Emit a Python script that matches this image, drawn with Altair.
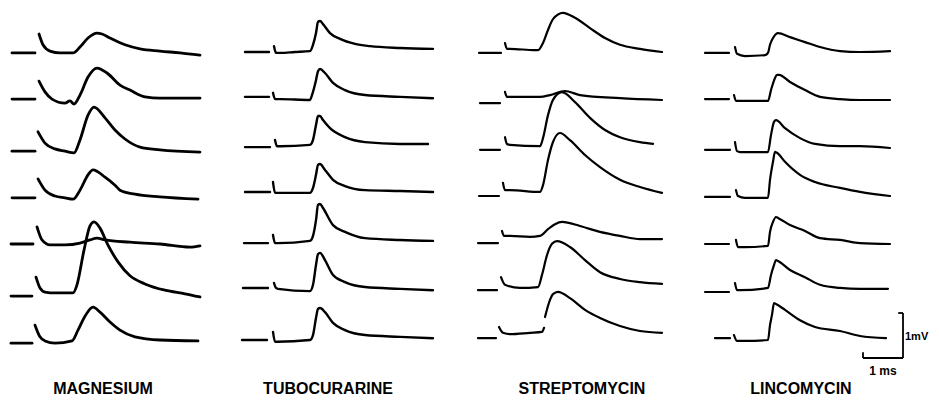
import altair as alt
import pandas as pd

# ---------------- data (time in ms from sweep start, voltage in mV from row baseline) -------------
PANELS = ["MAGNESIUM", "TUBOCURARINE", "STREPTOMYCIN", "LINCOMYCIN"]

# pre-stimulus baseline dash of each sweep: (start ms, end ms, level mV)
MG_PRE = [(0, 0.575, -0.02), (0, 0.575, 0.02), (0, 0.575, -0.07), (0, 0.575, -0.04),
          (-0.025, 0.525, 0.0), (-0.025, 0.5, -0.09), (-0.025, 0.5, -0.07)]
TC_PRE = [(0, 0.6, 0.0), (0, 0.6, 0.07), (0, 0.625, 0.02), (0, 0.625, 0.09),
          (-0.025, 0.575, 0.02), (-0.05, 0.575, 0.09), (-0.075, 0.55, 0.0)]
SM_PRE = [(0, 0.55, -0.02), (0.025, 0.525, -0.07), (0.025, 0.525, -0.04), (0, 0.5, 0.0),
          (-0.025, 0.475, 0.02), (-0.025, 0.45, 0.04), (-0.025, 0.425, 0.04)]
LC_PRE = [(0, 0.6, -0.02), (0, 0.6, 0.02), (0, 0.625, -0.04), (0, 0.625, -0.02),
          (0, 0.6, 0.0), (0, 0.6, 0.0), (0.25, 0.625, 0.04)]

# MAGNESIUM sweeps
MG_T = [
    [0.675, 0.775, 0.95, 1.2, 1.525, 1.7, 1.9, 2.125, 2.25, 2.45, 2.825, 3.2, 3.7, 4.2, 4.7],
    [0.675, 0.825, 1.0, 1.325, 1.45, 1.55, 1.7, 1.9, 2.125, 2.375, 2.7, 2.95, 3.325, 3.7, 4.7],
    [0.65, 0.825, 1.075, 1.325, 1.55, 1.7, 1.9, 2.05, 2.325, 2.575, 2.825, 3.2, 3.7, 4.7],
    [0.65, 0.825, 1.075, 1.325, 1.525, 1.7, 1.9, 2.025, 2.325, 2.575, 2.7, 3.075, 3.7, 4.65],
    [0.625, 0.75, 0.95, 1.325, 1.7, 1.95, 2.125, 2.325, 2.95, 3.7, 4.45, 4.7],
    [0.6, 0.7, 0.825, 1.075, 1.525, 1.625, 1.8, 1.95, 2.05, 2.2, 2.4, 2.65, 2.95, 3.325, 3.825, 4.325, 4.7],
    [0.575, 0.7, 0.825, 1.075, 1.5, 1.65, 1.825, 2.025, 2.2, 2.45, 2.7, 3.075, 3.7, 4.65],
]
MG_V = [
    [0.40, 0.16, 0.02, -0.02, -0.02, 0.11, 0.31, 0.42, 0.40, 0.31, 0.16, 0.07, 0.02, -0.02, -0.07],
    [0.42, 0.18, 0.02, -0.07, -0.02, -0.09, 0.11, 0.51, 0.71, 0.60, 0.33, 0.22, 0.07, 0.04, 0.04],
    [0.36, 0.11, -0.02, -0.07, -0.11, 0.18, 0.73, 0.91, 0.67, 0.40, 0.20, 0.02, -0.04, -0.09],
    [0.38, 0.13, 0.0, -0.04, -0.07, 0.13, 0.47, 0.58, 0.42, 0.24, 0.13, 0.04, -0.02, -0.07],
    [0.38, 0.09, -0.02, -0.02, 0.02, 0.09, 0.13, 0.09, 0.04, 0.0, -0.07, -0.04],
    [0.33, 0.09, 0.0, -0.02, -0.02, 0.16, 0.93, 1.47, 1.56, 1.42, 1.04, 0.67, 0.36, 0.18, 0.04, -0.04, -0.11],
    [0.33, 0.07, -0.02, -0.07, -0.02, 0.22, 0.53, 0.73, 0.62, 0.40, 0.22, 0.07, 0.0, -0.02],
]

# TUBOCURARINE sweeps
TC_T = [
    [0.725, 0.775, 0.875, 1.25, 1.625, 1.7, 1.775, 1.825, 1.875, 1.95, 2.125, 2.375, 2.75, 3.125, 3.875, 4.7],
    [0.7, 0.75, 0.875, 1.625, 1.675, 1.775, 1.825, 1.875, 2.0, 2.2, 2.5, 3.0, 3.875, 4.7],
    [0.75, 0.8, 0.875, 1.625, 1.7, 1.775, 1.825, 1.875, 1.95, 2.125, 2.5, 3.0, 3.875, 4.575],
    [0.7, 0.75, 0.825, 1.625, 1.7, 1.775, 1.825, 1.875, 2.0, 2.2, 2.5, 3.0, 3.875, 4.7],
    [0.7, 0.75, 0.825, 1.625, 1.7, 1.775, 1.825, 1.875, 1.95, 2.2, 2.5, 3.0, 3.875, 4.7],
    [0.725, 0.775, 0.825, 1.625, 1.7, 1.775, 1.825, 1.875, 2.0, 2.2, 2.5, 3.0, 3.875, 4.7],
    [0.7, 0.75, 0.8, 1.625, 1.7, 1.775, 1.825, 1.875, 2.0, 2.2, 2.5, 3.0, 3.875, 4.7],
]
TC_V = [
    [0.13, -0.02, -0.02, 0.0, 0.02, 0.16, 0.42, 0.67, 0.69, 0.62, 0.42, 0.29, 0.18, 0.13, 0.09, 0.07],
    [0.16, 0.02, 0.02, 0.0, 0.11, 0.44, 0.64, 0.69, 0.60, 0.38, 0.22, 0.11, 0.07, 0.04],
    [0.18, 0.04, 0.04, 0.07, 0.18, 0.51, 0.71, 0.71, 0.62, 0.44, 0.24, 0.13, 0.09, 0.09],
    [0.31, 0.07, 0.07, 0.07, 0.18, 0.47, 0.69, 0.71, 0.58, 0.36, 0.22, 0.13, 0.11, 0.09],
    [0.20, 0.02, 0.02, 0.07, 0.18, 0.53, 0.87, 0.89, 0.80, 0.42, 0.27, 0.13, 0.09, 0.07],
    [0.20, 0.09, 0.07, 0.02, 0.16, 0.60, 0.84, 0.87, 0.71, 0.38, 0.22, 0.11, 0.07, 0.04],
    [0.18, -0.04, -0.04, 0.0, 0.11, 0.49, 0.69, 0.71, 0.62, 0.38, 0.22, 0.11, 0.07, 0.04],
]

# STREPTOMYCIN sweeps (None = gap in the trace)
SM_T = [
    [0.65, 0.7, 0.775, 1.4, 1.475, 1.6, 1.725, 1.85, 2.1, 2.4, 2.775, 3.15, 3.525, 4.025, 4.575],
    [0.65, 0.7, 0.775, 1.525, 1.775, 2.15, 2.525, 3.525, 4.575],
    [0.65, 0.7, 0.775, 1.525, 1.6, 1.725, 1.85, 2.075, 2.4, 2.775, 3.15, 3.525, 4.025, 4.35],
    [0.6, 0.65, 0.775, 1.525, 1.6, 1.725, 1.85, 2.025, 2.275, 2.65, 3.025, 3.525, 4.025, 4.575],
    [0.575, 0.625, 0.775, 1.275, 1.525, 1.725, 1.9, 2.075, 2.525, 3.025, 3.525, 4.025, 4.575],
    [0.55, 0.65, 1.025, 1.475, 1.575, 1.7, 1.825, 1.95, 2.275, 2.65, 3.025, 3.525, 4.025, 4.575],
    [0.5, 0.6, 0.775, 1.275, 1.575, 1.625, 1.64, 1.65, 1.775, 1.85, 1.975, 2.275, 2.65, 3.025, 3.525, 4.025, 4.575],
]
SM_V = [
    [0.20, 0.07, 0.07, 0.04, 0.04, 0.20, 0.49, 0.73, 0.87, 0.76, 0.53, 0.31, 0.16, 0.07, 0.0],
    [0.18, 0.07, 0.07, 0.07, 0.11, 0.20, 0.11, 0.04, 0.0],
    [0.24, 0.09, 0.07, 0.04, 0.22, 0.73, 1.07, 1.24, 1.02, 0.67, 0.40, 0.24, 0.13, 0.09],
    [0.29, 0.13, 0.13, 0.09, 0.24, 0.80, 1.20, 1.40, 1.24, 0.91, 0.64, 0.36, 0.20, 0.07],
    [0.29, 0.18, 0.18, 0.16, 0.18, 0.33, 0.44, 0.49, 0.40, 0.27, 0.18, 0.11, 0.11],
    [0.33, 0.16, 0.09, 0.11, 0.38, 0.82, 1.07, 1.13, 1.00, 0.71, 0.44, 0.29, 0.22, 0.18],
    [0.29, 0.16, 0.13, 0.16, 0.18, 0.27, None, 0.51, 0.89, 1.02, 1.07, 0.93, 0.67, 0.49, 0.31, 0.20, 0.16],
]

# LINCOMYCIN sweeps
LC_T = [
    [0.75, 0.8, 1.0, 1.5, 1.575, 1.625, 1.7, 1.775, 1.825, 2.125, 2.5, 2.875, 3.375, 3.875, 4.625],
    [0.725, 0.775, 0.875, 1.575, 1.65, 1.75, 1.8, 1.85, 2.125, 2.5, 2.875, 3.375, 3.875, 4.625],
    [0.75, 0.8, 0.875, 1.575, 1.65, 1.725, 1.775, 2.0, 2.375, 2.75, 3.375, 3.875, 4.625],
    [0.775, 0.825, 1.0, 1.575, 1.625, 1.7, 1.75, 1.8, 2.0, 2.375, 2.75, 3.375, 3.875, 4.625],
    [0.775, 0.825, 1.0, 1.575, 1.625, 1.7, 1.775, 1.825, 2.125, 2.5, 2.875, 3.375, 3.875, 4.625],
    [0.75, 0.8, 0.875, 1.575, 1.65, 1.725, 1.775, 1.825, 2.125, 2.5, 2.875, 3.375, 3.875, 4.575],
    [0.725, 0.8, 1.0, 1.575, 1.625, 1.675, 1.725, 1.775, 2.0, 2.375, 2.75, 3.375, 3.875, 4.525],
]
LC_V = [
    [0.11, -0.04, -0.09, -0.07, -0.02, 0.16, 0.31, 0.40, 0.42, 0.33, 0.22, 0.11, 0.02, 0.0, 0.02],
    [0.11, -0.02, -0.02, -0.02, 0.22, 0.49, 0.56, 0.56, 0.40, 0.22, 0.07, 0.02, 0.0, 0.0],
    [0.13, -0.07, -0.09, -0.09, 0.29, 0.58, 0.62, 0.44, 0.22, 0.09, 0.04, 0.04, 0.0],
    [0.13, 0.0, -0.04, -0.04, 0.36, 0.76, 0.98, 0.96, 0.76, 0.47, 0.31, 0.18, 0.09, 0.0],
    [0.09, -0.07, -0.07, -0.04, 0.27, 0.49, 0.60, 0.58, 0.42, 0.29, 0.13, 0.09, 0.02, 0.0],
    [0.20, 0.04, 0.04, 0.09, 0.38, 0.60, 0.71, 0.69, 0.49, 0.33, 0.16, 0.09, 0.07, 0.07],
    [0.11, -0.02, -0.02, 0.0, 0.33, 0.56, 0.82, 0.80, 0.67, 0.44, 0.29, 0.20, 0.09, 0.04],
]

SCALE_MS = 1.0   # horizontal calibration bar
SCALE_MV = 1.0   # vertical calibration bar

# ---------------- layout ----------------
W, H = 923, 395
X_MAX = W / 40.0          # 40 px per ms
Y_MAX = H / 45.0          # 45 px per mV
PANEL_X0 = [0.1, 5.925, 11.775, 17.425]
ROW_Y0, ROW_DY = 7.8, 1.0667
PANEL_SW = [2.8, 2.4, 2.2, 2.2]
LABEL_X = [2.375, 8.0, 14.35, 19.825]
LABEL_Y = 0.2

rows = []
sets = [(MG_PRE, MG_T, MG_V), (TC_PRE, TC_T, TC_V), (SM_PRE, SM_T, SM_V), (LC_PRE, LC_T, LC_V)]
for p, (pre, ts, vs) in enumerate(sets):
    for r in range(7):
        base = ROW_Y0 - r * ROW_DY
        x0 = PANEL_X0[p]
        t0, t1, lv = pre[r]
        key0 = f"{p}-{r}-0"
        rows.append(dict(key=key0, i=0, x=x0 + t0, y=base + lv, sw=PANEL_SW[p]))
        rows.append(dict(key=key0, i=1, x=x0 + t1, y=base + lv, sw=PANEL_SW[p]))
        seg = 1
        for i, (t, v) in enumerate(zip(ts[r], vs[r])):
            if v is None:
                seg += 1
                continue
            rows.append(dict(key=f"{p}-{r}-{seg}", i=i, x=x0 + t, y=base + v, sw=PANEL_SW[p]))
df = pd.DataFrame(rows)

xs = alt.Scale(domain=[0, X_MAX], nice=False, zero=False)
ys = alt.Scale(domain=[0, Y_MAX], nice=False, zero=False)

lines = alt.Chart(df).mark_line(
    interpolate="monotone", color="black", strokeCap="round", strokeJoin="round"
).encode(
    x=alt.X("x:Q", scale=xs, axis=None),
    y=alt.Y("y:Q", scale=ys, axis=None),
    detail="key:N",
    order="i:Q",
    strokeWidth=alt.StrokeWidth("sw:Q", scale=None),
)

# calibration bars
bx, by = 22.375, 1.0
bars = pd.DataFrame([
    dict(x=bx, x2=bx, y=by, y2=by + SCALE_MV),
    dict(x=bx - SCALE_MS, x2=bx, y=by, y2=by),
    dict(x=bx - SCALE_MS, x2=bx - SCALE_MS, y=by, y2=by + 0.13),
    dict(x=bx - 0.12, x2=bx, y=by + SCALE_MV, y2=by + SCALE_MV),
])
bar_chart = alt.Chart(bars).mark_rule(color="black", strokeWidth=1.8).encode(
    x=alt.X("x:Q", scale=xs, axis=None), x2="x2:Q",
    y=alt.Y("y:Q", scale=ys, axis=None), y2="y2:Q",
)

lab = pd.DataFrame(dict(name=PANELS, x=LABEL_X, y=[LABEL_Y] * 4))
labels = alt.Chart(lab).mark_text(
    font="Liberation Sans", fontWeight="bold", fontSize=16, align="center", baseline="alphabetic", color="black"
).encode(x=alt.X("x:Q", scale=xs, axis=None), y=alt.Y("y:Q", scale=ys, axis=None), text="name:N")

cal = pd.DataFrame(dict(t=["1mV", "1 ms"], x=[bx + 0.05, bx - SCALE_MS / 2], y=[by + 0.4, by - 0.38]))
cal_mv = alt.Chart(cal.iloc[[0]]).mark_text(
    font="Liberation Sans", fontWeight="bold", fontSize=11, align="left", baseline="alphabetic", color="black"
).encode(x=alt.X("x:Q", scale=xs, axis=None), y=alt.Y("y:Q", scale=ys, axis=None), text="t:N")
cal_ms = alt.Chart(cal.iloc[[1]]).mark_text(
    font="Liberation Sans", fontWeight="bold", fontSize=12, align="center", baseline="alphabetic", color="black"
).encode(x=alt.X("x:Q", scale=xs, axis=None), y=alt.Y("y:Q", scale=ys, axis=None), text="t:N")

chart = alt.layer(lines, bar_chart, labels, cal_mv, cal_ms).properties(
    width=W, height=H, padding=0, autosize=alt.AutoSizeParams(type="none"), background="white"
).configure_view(stroke=None)

chart.save("out.html", embed_options={"renderer": "svg", "actions": False})
